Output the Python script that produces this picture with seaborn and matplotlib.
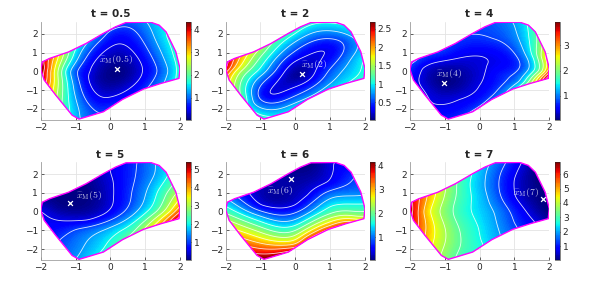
import numpy as np
import seaborn as sns
import matplotlib
matplotlib.use('Agg')
import matplotlib.pyplot as plt
from matplotlib.patches import Polygon

# boundary of the domain (same for every panel)
dom_x = [-2.0, -1.95, -1.75, -1.2, -0.7, -0.2, 0.15, 0.45, 1.15, 1.4, 1.6, 1.88,
         2.0, 1.97, 1.45, 0.95, 0.35, -0.2, -0.9, -1.1, -1.57, -1.9]
dom_y = [0.1, 0.5, 0.68, 1.03, 1.48, 2.02, 2.37, 2.6, 2.62, 2.46, 2.1, 1.04,
         0.15, -0.38, -0.65, -0.95, -1.5, -2.16, -2.55, -2.34, -1.27, -0.47]

titles = ['t = 0.5', 't = 2', 't = 4', 't = 5', 't = 6', 't = 7']
labels = ['0.5', '2', '4', '5', '6', '7']
vmins = [0.03, 0.02, 0.03, 0.02, 0.03, 0.03]
vmaxs = [4.33, 2.7, 3.95, 5.4, 4.15, 6.85]
cbar_ticks = [[1, 2, 3, 4], [0.5, 1, 1.5, 2, 2.5], [1, 2, 3],
              [1, 2, 3, 4, 5], [1, 2, 3, 4], [1, 2, 3, 4, 5, 6]]
marker_x = [0.18, 0.2, -1.01, -1.16, -0.13, 1.81]
marker_y = [0.10, -0.15, -0.64, 0.45, 1.73, 0.68]
label_x = [-0.32, 0.16, -1.26, -0.99, -0.80, 0.95]
label_y = [0.63, 0.38, -0.11, 0.84, 1.11, 0.99]

# values at sample points (x, y, value)
samples_05 = [(0.25, -0.1, 0.03), (0.18, 0.1, 0.06), (-0.58, 0, 0.45), (0.95, 0, 0.45),
              (0.2, 1.55, 0.45), (-0.2, -1.5, 0.45),
              (-1.88, 0, 3.8), (-1.73, 0, 3.2), (-1.59, 0, 2.7), (-1.45, 0, 2.2), (-1.3, 0, 1.6),
              (-1.11, 0, 1.1), (-0.87, 0, 0.7), (1.23, 0, 0.7), (1.52, 0, 1.0), (1.8, 0, 1.4),
              (2.0, 0, 1.8), (0, 2.0, 0.7), (-1.0, -1.0, 1.1), (-1.0, 1.0, 1.5),
              (-1.95, 0.2, 4.3), (-1.9, -0.3, 3.9), (-1.83, -0.64, 3.5), (-1.64, -1.17, 2.7),
              (-1.4, -1.7, 2.0), (-1.16, -2.14, 1.6), (-0.87, -2.55, 1.2), (-1.92, 0.41, 3.9),
              (-1.64, 0.68, 3.2), (-1.35, 0.85, 2.4), (-1.06, 1.12, 1.7), (-0.68, 1.47, 1.2),
              (-0.3, 1.9, 1.0), (0.18, 2.44, 0.9), (0.47, 2.56, 0.9), (1.04, 2.62, 1.2),
              (1.33, 2.44, 1.4), (1.62, 1.82, 1.6), (1.9, 0.77, 1.7), (1.95, -0.38, 1.7),
              (1.14, -1.17, 1.0), (0.18, -1.88, 0.8), (-0.49, -2.4, 0.9)]
samples_2 = [(0.1, -0.2, 0.02), (0.95, 1.12, 0.25), (-0.87, -1.26, 0.25), (1.5, 1.8, 0.6),
             (-1.3, -1.7, 0.8),
             (-1.92, 0, 2.1), (-1.78, 0, 1.75), (-1.64, 0, 1.55), (-1.45, 0, 1.35), (-1.25, 0, 1.15),
             (-1.01, 0, 0.95), (-0.78, 0, 0.7), (-0.49, 0, 0.45), (-0.3, 0, 0.25), (0.47, 0, 0.2),
             (0.76, 0, 0.4), (1.14, 0, 0.65), (1.52, 0, 0.85), (1.9, 0, 1.0),
             (0, 2.0, 1.0), (0, 1.47, 0.7), (0, 0.94, 0.45), (0, 0.41, 0.2), (0, -1.0, 0.35),
             (0, -1.52, 0.65), (0, -1.96, 0.95),
             (-2.0, 0.15, 2.7), (-1.92, 0.41, 2.4), (-1.64, 0.68, 2.0), (-1.35, 0.94, 1.7),
             (-0.97, 1.12, 1.4), (-0.49, 1.56, 1.1), (0.47, 2.53, 1.0), (1.04, 2.56, 1.0),
             (1.62, 2.0, 0.9), (1.9, 0.59, 1.0), (1.95, -0.29, 1.05), (1.14, -1.0, 1.0),
             (0.28, -1.88, 1.0), (-0.78, -2.5, 1.05), (-1.54, -1.52, 1.35), (-1.83, -0.82, 1.6),
             (-1.97, -0.2, 2.0)]
samples_4 = [(-1.0, -0.7, 0.03), (-1.3, 0.1, 0.2), (-0.5, 0.3, 0.25), (-0.5, -0.5, 0.15),
             (-1.72, 0.2, 0.39), (-1.76, -0.47, 0.39), (0.06, 0.84, 0.39), (0.15, 0.31, 0.39),
             (-0.04, -0.76, 0.39), (-0.61, -1.47, 0.39), (-1.38, -1.82, 0.39),
             (-1.5, 0.55, 0.5), (-1.0, 0.75, 0.5), (-0.5, 1.1, 0.5),
             (-1.95, 0.1, 0.7), (-1.81, 0.5, 0.75), (-1.14, 1.03, 0.75), (-0.18, 2.0, 0.75),
             (0.34, 1.73, 0.75), (0.73, -0.22, 0.75), (0.44, -1.2, 0.75), (-0.3, -2.2, 0.75),
             (1.01, 2.53, 1.11), (1.25, 1.2, 1.11), (1.2, -0.58, 1.11),
             (1.4, 2.27, 1.47), (1.59, 0.67, 1.47),
             (1.73, 0, 1.83), (1.83, 0, 2.2), (1.92, 0, 2.6), (1.97, -0.03, 3.3),
             (1.92, -0.38, 3.9), (1.7, -0.6, 2.9), (1.45, -0.7, 2.2), (1.2, -0.85, 1.7),
             (0.95, -1.0, 1.3), (0.6, -1.3, 1.0), (0.1, -1.85, 0.8),
             (1.83, 0.77, 2.5), (1.64, 1.47, 1.8), (0.49, 2.56, 0.9), (-0.66, -2.49, 0.65),
             (-1.81, -1.17, 0.55), (-1.33, -2.23, 0.55)]
samples_5 = [(-1.1, 0.6, 0.02), (-1.5, 0.2, 0.1), (-0.6, 0.9, 0.05), (-0.6, 1.5, 0.1),
             (-1.5, -0.47, 0.51), (-0.64, -0.47, 0.51), (-0.16, -0.12, 0.51), (0.08, 0.68, 0.51),
             (0.08, 1.66, 0.51), (-0.02, 2.2, 0.51),
             (-2.0, 0, 0.55), (0.32, 0, 0.9), (0.7, 0, 1.4), (1.0, 0, 1.9), (1.3, 0, 2.4),
             (1.55, 0, 3.0), (1.75, 0, 3.5), (1.92, 0, 4.2),
             (-1.5, -1, 0.75), (-0.93, -1, 1.1), (-0.35, -1, 1.4), (0.22, -1, 1.9), (0.79, -1, 2.6),
             (0.41, 1, 0.8), (0.79, 1, 1.2), (1.18, 1, 1.7), (1.46, 1, 2.2), (1.75, 1, 2.7),
             (1.94, 1, 3.0), (0.6, 2, 0.9), (1.08, 2, 1.3), (1.46, 2, 1.7), (1.62, 2.0, 1.9),
             (-0.98, -2.55, 1.5), (-0.16, -1.96, 2.0), (0.41, -1.56, 2.5), (0.79, -1.27, 2.8),
             (1.08, -1.07, 3.4), (1.46, -0.79, 4.05), (1.75, -0.6, 4.7), (1.99, -0.42, 5.3),
             (0.5, 2.6, 0.8), (1.0, 2.62, 1.2), (1.4, 2.46, 1.6), (-1.4, -1.8, 1.1)]
samples_6 = [(0.5, 2.5, 0.03), (0, 2.3, 0.05), (0, 1.7, 0.15), (0, 1.0, 0.25), (0, 0.33, 0.41),
             (0, -0.06, 0.78), (0, -0.42, 1.15), (0, -0.74, 1.52), (0, -1.0, 1.89),
             (0, -1.27, 2.26), (0, -1.5, 2.63), (0, -1.72, 3.0), (0, -1.91, 3.37),
             (-1, 0.33, 0.41), (-1, 0.04, 0.78), (-1, -0.24, 1.15), (-1, -0.52, 1.52),
             (-1, -0.81, 1.89), (-1, -1.09, 2.26), (-1, -1.38, 2.63), (-1, -1.66, 3.0),
             (-1, -1.95, 3.37), (-1, -2.23, 3.74),
             (0.38, 0.86, 0.41), (0.96, 1.57, 0.41), (1.05, 2.6, 0.41),
             (1, 0.86, 1.05), (1, 0.33, 1.5), (1, -0.12, 1.9), (1, -0.47, 2.5), (1, -0.74, 3.0),
             (1, -1.0, 3.6), (1.8, 1.04, 1.0), (1.8, 0.33, 1.6), (1.8, -0.2, 2.1),
             (1.9, -0.5, 2.8), (-2.0, 0.1, 1.7), (-1.9, 0.45, 1.3), (-1.9, -0.5, 2.3),
             (-1.5, -1.3, 2.9), (-0.85, -2.55, 4.15), (-0.2, -2.1, 3.8), (0.4, -1.5, 3.6),
             (1.5, -0.6, 3.3), (1.4, 2.4, 0.5), (1.7, 1.8, 0.8), (-1.5, 0.8, 0.6), (-0.5, 1.6, 0.2)]
samples_7 = [(-2.0, 0.1, 6.8), (-1.86, 0, 6.0), (-1.71, 0, 5.3), (-1.52, 0, 4.5), (-1.28, 0, 3.9),
             (-0.9, 0, 3.4), (-0.42, 0, 2.6), (0.06, 0, 2.3), (0.58, 0, 1.75), (1.16, 0, 0.9),
             (1.68, 0, 0.2), (1.95, 0, 0.05),
             (0, 2.25, 2.2), (0, 1.7, 2.2), (0, 0.8, 2.3), (0, -0.8, 2.5), (0, -1.5, 2.5),
             (0, -2.0, 2.8), (1, 2.64, 1.0), (1, 1.7, 0.6), (1, 0.8, 0.6), (1, -0.6, 1.2),
             (1, -1.0, 1.4),
             (-1.86, 0.5, 6.0), (-1.57, 0.77, 5.2), (-1.28, 0.95, 4.4), (-0.9, 1.22, 3.6),
             (-0.52, 1.57, 2.8), (0.44, 2.6, 1.7), (1.4, 2.46, 0.3), (1.88, 1.04, 0.1),
             (1.97, -0.38, 0.2), (1.49, -0.83, 0.9), (0.34, -1.63, 2.2), (-0.23, -2.16, 2.7),
             (-0.9, -2.55, 3.3), (-1.19, -2.16, 3.9), (-1.57, -1.27, 5.0), (-1.9, -0.47, 6.2),
             (1.6, 0.7, 0.03), (1.3, 1.5, 0.3)]
all_samples = [samples_05, samples_2, samples_4, samples_5, samples_6, samples_7]
smoothing = [0.1, 0.2, 0.15, 0.1, 0.1, 0.4]


def tps_surface(pts, X, Y, smooth):
    # thin-plate spline through the read values
    px, py, pv = pts[:, 0], pts[:, 1], pts[:, 2]
    n = len(pv)

    def kern(r):
        with np.errstate(divide='ignore', invalid='ignore'):
            k = r * r * np.log(r)
        return np.nan_to_num(k)

    r = np.hypot(px[:, None] - px[None, :], py[:, None] - py[None, :])
    K = kern(r) + smooth * np.eye(n)
    P = np.column_stack([np.ones(n), px, py])
    A = np.zeros((n + 3, n + 3))
    A[:n, :n] = K
    A[:n, n:] = P
    A[n:, :n] = P.T
    sol = np.linalg.solve(A, np.concatenate([pv, np.zeros(3)]))
    w, a = sol[:n], sol[n:]
    rg = np.hypot(X[..., None] - px, Y[..., None] - py)
    return kern(rg) @ w + a[0] + a[1] * X + a[2] * Y


sns.set_theme(style='ticks')
plt.rcParams['mathtext.fontset'] = 'cm'
plt.rcParams['font.family'] = ['DejaVu Sans']

fig = plt.figure(figsize=(5.9, 2.93), dpi=100)
col_left = [0.069, 0.3825, 0.6949]
cbar_left = [0.3147, 0.6271, 0.9407]
row_bottom = [0.5904, 0.1116]
w, h, cw = 0.2361, 0.336, 0.0085

gx = np.linspace(-2.05, 2.05, 220)
gy = np.linspace(-2.65, 2.7, 220)
X, Y = np.meshgrid(gx, gy)

for i in range(6):
    r, c = divmod(i, 3)
    ax = fig.add_axes([col_left[c], row_bottom[r], w, h])
    cax = fig.add_axes([cbar_left[c], row_bottom[r], cw, h])

    s = np.array(all_samples[i], dtype=float)
    Z = np.clip(tps_surface(s, X, Y, smoothing[i]), vmins[i], vmaxs[i])

    dom = Polygon(np.column_stack([dom_x, dom_y]), closed=True, transform=ax.transData)
    cf = ax.contourf(X, Y, Z, levels=np.linspace(vmins[i], vmaxs[i], 120),
                     cmap='jet', vmin=vmins[i], vmax=vmaxs[i])
    cf.set_clip_path(dom)
    cl = ax.contour(X, Y, Z, levels=np.linspace(vmins[i], vmaxs[i], 12)[1:-1],
                    colors='white', linewidths=0.6, alpha=0.85)
    cl.set_clip_path(dom)
    ax.fill(dom_x, dom_y, fill=False, edgecolor='#ff00ff', linewidth=1.0, zorder=3)

    sns.scatterplot(x=[marker_x[i]], y=[marker_y[i]], marker='x', color='white',
                    s=12, linewidth=0.9, ax=ax, zorder=4)
    ax.text(label_x[i], label_y[i], r'$\widehat{x}_{\rm M}(' + labels[i] + ')$',
            color='white', alpha=0.8, fontsize=7, va='center', ha='left', zorder=4)

    ax.set_xlim(-2, 2)
    ax.set_ylim(-2.6, 2.65)
    ax.set_xticks([-2, -1, 0, 1, 2])
    ax.set_yticks([-2, -1, 0, 1, 2])
    ax.grid(True, color='#e3e3e3', linewidth=0.6)
    ax.set_axisbelow(True)
    ax.set_title(titles[i], fontsize=7.5, fontweight='bold', pad=3)
    ax.tick_params(labelsize=6.5, direction='in', length=2, width=0.5, colors='#262626', pad=2)
    for side in ['top', 'right']:
        ax.spines[side].set_visible(False)
    for side in ['left', 'bottom']:
        ax.spines[side].set_color('#a0a0a0')
        ax.spines[side].set_linewidth(0.6)

    cb = fig.colorbar(cf, cax=cax, ticks=cbar_ticks[i])
    cb.ax.tick_params(labelsize=6.5, direction='in', length=2, width=0.5, colors='#262626', pad=2)
    cb.outline.set_linewidth(0.4)
    cb.ax.set_yticklabels([f'{t:g}' for t in cbar_ticks[i]])

fig.savefig('out.png', dpi=100)
